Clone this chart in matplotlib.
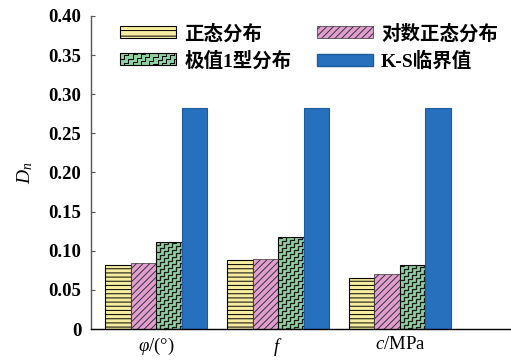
import numpy as np
import matplotlib
matplotlib.use("Agg")
import matplotlib.pyplot as plt
from matplotlib.patches import Patch
from matplotlib.legend_handler import HandlerPatch
from matplotlib.lines import Line2D

# Data
categories = [r'$\varphi$/(°)', r'$f$', r'$c$/MPa']
normal = [0.082, 0.088, 0.065]
lognormal = [0.084, 0.089, 0.070]
gumbel = [0.111, 0.117, 0.082]
ks_critical = [0.283, 0.283, 0.283]
series_names = ['正态分布', '对数正态分布', '极值1型分布', 'K-S临界值']
yticks = [0, 0.05, 0.10, 0.15, 0.20, 0.25, 0.30, 0.35, 0.40]
ytick_labels = ['0', '0.05', '0.10', '0.15', '0.20', '0.25', '0.30', '0.35', '0.40']

plt.rcParams['mathtext.fontset'] = 'custom'
plt.rcParams['mathtext.rm'] = 'Liberation Serif'
plt.rcParams['mathtext.it'] = 'Liberation Serif:italic'
plt.rcParams['mathtext.bf'] = 'Liberation Serif:bold'
plt.rcParams['hatch.linewidth'] = 0.7
fam = ['Liberation Serif', 'Noto Sans CJK SC']

c_yellow = '#f6eda0'
c_pink = '#e29ed0'
c_green = '#90cf9f'
c_blue = '#2770be'

fig = plt.figure(figsize=(5.11, 3.61), dpi=100)
ax = fig.add_axes([91 / 511, 32 / 361, 420 / 511, 313 / 361])

x = np.arange(1, len(categories) + 1)
w = 0.209
b1 = ax.bar(x - 1.5 * w, normal, w, color=c_yellow, edgecolor='black', linewidth=0.8, hatch='----')
b2 = ax.bar(x - 0.5 * w, lognormal, w, color=c_pink, edgecolor='#333333', linewidth=0.5, hatch='/////')
b3 = ax.bar(x + 0.5 * w, gumbel, w, color=c_green, edgecolor='black', linewidth=0.8)
b4 = ax.bar(x + 1.5 * w, ks_critical, w, color=c_blue, edgecolor='#1d5c9e', linewidth=0.8)

ax.set_xlim(0.467, 3.91)
ax.set_ylim(0, 0.40)

# staircase fill pattern for the green bars, drawn in pixel units
px_x = 420 / (3.91 - 0.467)
px_y = 313 / 0.40


def staircase_xy(W, H, step=4.0, gap=7.0):
    paths = []
    start = -W - 10
    while start < H + 5:
        xs, ys = [0.0], [start]
        cx, cy = 0.0, start
        while cx < W + step:
            cx += step; xs.append(cx); ys.append(cy)
            cy += step; xs.append(cx); ys.append(cy)
        paths.append((np.array(xs), np.array(ys)))
        start += gap
    return paths


for r in b3:
    x0, y0 = r.get_x(), r.get_y()
    for xs, ys in staircase_xy(r.get_width() * px_x, r.get_height() * px_y):
        line = Line2D(x0 + xs / px_x, y0 + ys / px_y, color='#1a1a1a', linewidth=0.9)
        ax.add_line(line)
        line.set_clip_path(r)

ax.set_xticks(x)
ax.set_xticklabels(categories, fontsize=13.5, fontfamily='Liberation Serif')
ax.tick_params(axis='x', length=0, pad=5)
ax.set_yticks(yticks)
ax.set_yticklabels(ytick_labels, fontsize=13.5, fontfamily='Liberation Serif', fontweight='bold')
ax.tick_params(axis='y', direction='in', length=3, width=0.8, color='#555555', pad=7)

ax.spines['top'].set_visible(False)
ax.spines['right'].set_visible(False)
ax.spines['left'].set_color('#555555')
ax.spines['left'].set_linewidth(1.0)
ax.spines['bottom'].set_color('black')
ax.spines['bottom'].set_linewidth(1.0)

ax.set_ylabel(r'$D_n$', fontsize=14, labelpad=10)


class StairHandler(HandlerPatch):
    def create_artists(self, legend, orig_handle, xdescent, ydescent, width, height, fontsize, trans):
        p = plt.Rectangle((-xdescent, -ydescent), width, height, facecolor=c_green,
                          edgecolor='black', linewidth=0.8, transform=trans)
        arts = [p]
        for xs, ys in staircase_xy(width, height, step=3.0, gap=5.5):
            ln = Line2D(xs - xdescent, ys - ydescent, color='black', linewidth=0.7, transform=trans)
            ln.set_clip_path(p)
            arts.append(ln)
        return arts


h_normal = Patch(facecolor=c_yellow, edgecolor='black', linewidth=0.8, hatch='---')
h_lognormal = Patch(facecolor=c_pink, edgecolor='#333333', linewidth=0.5, hatch='/////')
h_gumbel = Patch(facecolor=c_green, edgecolor='black')
h_ks = Patch(facecolor=c_blue, edgecolor='#1d5c9e')
# two columns filled column-wise: reorder so rows read left to right
handles = [h_normal, h_gumbel, h_lognormal, h_ks]
labels = [series_names[0], series_names[2], series_names[1], series_names[3]]
leg = ax.legend(handles, labels, ncol=2, loc='upper left',
                bbox_to_anchor=(120 / 511, 1 - 24 / 361), bbox_transform=fig.transFigure,
                frameon=False, handlelength=2.9, handleheight=0.57, handletextpad=0.4,
                columnspacing=1.3, labelspacing=0.4, borderpad=0, borderaxespad=0,
                prop={'family': fam, 'weight': 'bold', 'size': 14},
                handler_map={h_gumbel: StairHandler()})

fig.savefig('out.png', dpi=100)
